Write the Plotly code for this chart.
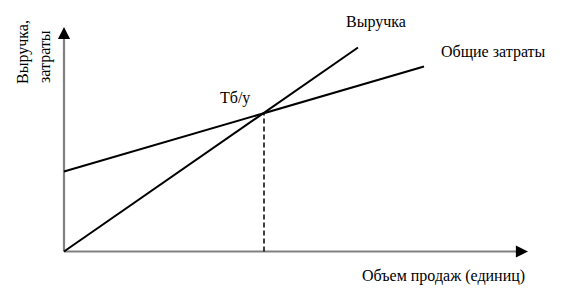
import plotly.graph_objects as go

# ---- data (abstract units) ----
volume_revenue = [0, 147]
revenue = [0, 204]
volume_cost = [0, 180]
total_cost = [80, 185]
breakeven_volume = 100
breakeven_value = 138.5

labels_revenue = "Выручка"
labels_cost = "Общие затраты"
label_be = "Тб/у"
x_title = "Объем продаж (единиц)"
y_title_lines = ["Выручка,", "затраты"]

# ---- layout helpers (pixel -> axis units) ----
W, H = 588, 301
X0_PX, Y0_PX = 64, 251.5
SX = 2.0  # px per x unit
SY = 1.0  # px per y unit


def px2x(px):
    return (px - X0_PX) / SX


def py2y(py):
    return (Y0_PX - py) / SY


X_END = px2x(528)
Y_END = py2y(27)

font_family = "Times New Roman, Tinos, Liberation Serif, DejaVu Serif"
fs = 16

fig = go.Figure()

# axes (gray lines)
fig.add_trace(go.Scatter(x=[0, px2x(520)], y=[0, 0], mode="lines",
                         line=dict(color="#808080", width=2.2), hoverinfo="skip"))
fig.add_trace(go.Scatter(x=[0, 0], y=[0, py2y(35)], mode="lines",
                         line=dict(color="#808080", width=2.2), hoverinfo="skip"))
# arrowheads
fig.add_annotation(x=X_END, y=0, ax=px2x(518), ay=0, xref="x", yref="y", axref="x", ayref="y",
                   showarrow=True, arrowhead=2, arrowsize=1.1, arrowwidth=2.2, arrowcolor="black", text="")
fig.add_annotation(x=0, y=Y_END, ax=0, ay=py2y(37), xref="x", yref="y", axref="x", ayref="y",
                   showarrow=True, arrowhead=2, arrowsize=1.1, arrowwidth=2.2, arrowcolor="black", text="")

# revenue and cost lines
fig.add_trace(go.Scatter(x=volume_revenue, y=revenue, mode="lines",
                         line=dict(color="black", width=2), hoverinfo="skip"))
fig.add_trace(go.Scatter(x=volume_cost, y=total_cost, mode="lines",
                         line=dict(color="black", width=2), hoverinfo="skip"))
# break-even dashed line
fig.add_trace(go.Scatter(x=[breakeven_volume, breakeven_volume], y=[0, breakeven_value], mode="lines",
                         line=dict(color="black", width=1.5, dash="5px,3px"), hoverinfo="skip"))

tf = dict(family=font_family, size=fs, color="black")
fig.add_annotation(x=px2x(344), y=py2y(22), text=labels_revenue, showarrow=False,
                   xanchor="left", yanchor="middle", font=tf)
fig.add_annotation(x=px2x(439), y=py2y(52), text=labels_cost, showarrow=False,
                   xanchor="left", yanchor="middle", font=tf)
fig.add_annotation(x=px2x(218), y=py2y(98), text=label_be, showarrow=False,
                   xanchor="left", yanchor="middle", font=tf)
fig.add_annotation(x=px2x(360), y=py2y(276), text=x_title, showarrow=False,
                   xanchor="left", yanchor="middle", font=tf)
fig.add_annotation(x=px2x(23), y=py2y(52), text=y_title_lines[0], showarrow=False,
                   xanchor="center", yanchor="middle", textangle=-90, font=tf)
fig.add_annotation(x=px2x(45), y=py2y(57), text=y_title_lines[1], showarrow=False,
                   xanchor="center", yanchor="middle", textangle=-90, font=tf)

fig.update_layout(
    width=W, height=H,
    margin=dict(l=0, r=0, t=0, b=0),
    paper_bgcolor="white", plot_bgcolor="white",
    showlegend=False,
    font=dict(family=font_family),
    xaxis=dict(range=[px2x(0), px2x(W)], visible=False, fixedrange=True),
    yaxis=dict(range=[py2y(H), py2y(0)], visible=False, fixedrange=True),
)

fig.write_html("out.html", config={"displayModeBar": False})
